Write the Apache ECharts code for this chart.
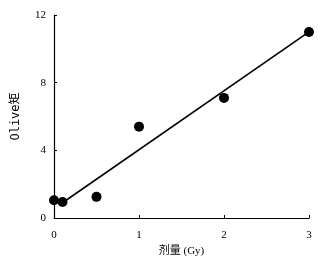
<!DOCTYPE html>
<html>
<head>
<meta charset="utf-8">
<script src="https://cdn.jsdelivr.net/npm/echarts@6/dist/echarts.min.js"></script>
<style>
html, body { margin: 0; padding: 0; background: #fff; }
#main { width: 330px; height: 265px; }
</style>
</head>
<body>
<div id="main"></div>
<script>
// dose (Gy) and Olive moment
const dose = [0, 0.1, 0.5, 1, 2, 3];
const olive = [1.05, 0.95, 1.25, 5.4, 7.1, 11.0];
// fitted line end points
const fitX = [0.1, 3];
const fitY = [0.9, 11.0];
const xTicks = [0, 1, 2, 3];
const yTicks = [0, 4, 8, 12];

const chart = echarts.init(document.getElementById('main'));
const font = '"Liberation Serif", "Noto Sans CJK SC", serif';
chart.setOption({
  animation: false,
  grid: { left: 54, right: 21, top: 15, bottom: 47 },
  xAxis: {
    type: 'value', min: 0, max: 3, interval: 1,
    name: '剂量 (Gy)', nameLocation: 'middle', nameGap: 28,
    nameTextStyle: { color: '#000', fontSize: 11, fontFamily: font },
    axisLine: { lineStyle: { color: '#000', width: 1.2 } },
    axisTick: { inside: true, length: 3, lineStyle: { color: '#000' } },
    axisLabel: { color: '#000', fontSize: 11, fontFamily: font, margin: 12,
      formatter: v => xTicks.includes(v) ? String(v) : '' },
    splitLine: { show: false }
  },
  yAxis: {
    type: 'value', min: 0, max: 12, interval: 4,
    name: 'Olive矩', nameLocation: 'middle', nameGap: 32,
    nameTextStyle: { color: '#000', fontSize: 12, fontFamily: '"DejaVu Sans Mono", "Noto Sans CJK SC", monospace' },
    axisLine: { show: true, lineStyle: { color: '#000', width: 1.2 } },
    axisTick: { show: true, inside: true, length: 3, lineStyle: { color: '#000' } },
    axisLabel: { color: '#000', fontSize: 11, fontFamily: font, margin: 8,
      formatter: v => yTicks.includes(v) ? String(v) : '' },
    splitLine: { show: false }
  },
  series: [
    {
      type: 'line',
      data: fitX.map((x, i) => [x, fitY[i]]),
      showSymbol: false,
      lineStyle: { color: '#000', width: 1.6 },
      silent: true
    },
    {
      type: 'scatter',
      data: dose.map((x, i) => [x, olive[i]]),
      symbolSize: 10,
      itemStyle: { color: '#000', opacity: 1 }
    }
  ]
});
</script>
</body>
</html>
